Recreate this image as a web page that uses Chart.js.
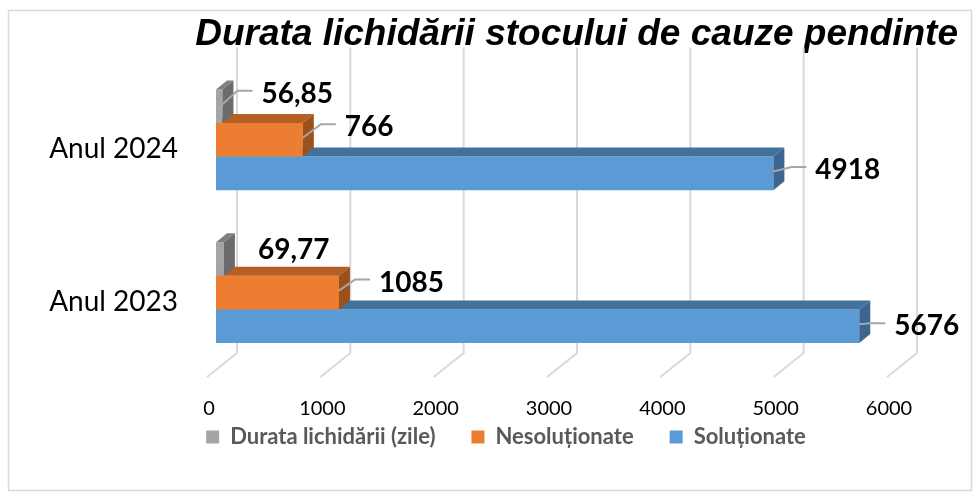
<!DOCTYPE html>
<html>
<head>
<meta charset="utf-8">
<script src="https://cdn.jsdelivr.net/npm/chart.js@4.4.1/dist/chart.umd.min.js"></script>
<style>
body{margin:0;background:#fff;}
#wrap{position:relative;width:979px;height:497px;}
</style>
</head>
<body>
<div id="wrap"><canvas id="durataChart"></canvas></div>
<script>
// data
const ani=["Anul 2024","Anul 2023"];
const durata=[56.85,69.77];
const nesolutionate=[766,1085];
const solutionate=[4918,5676];
const serii=["Durata lichidării (zile)","Nesoluționate","Soluționate"];

// colors: front, top, side
const culori=[
    {front:"#a5a5a5",top:"#7f7f7f",side:"#6b6b6b"},
    {front:"#ed7d31",top:"#b45f24",side:"#9c501c"},
    {front:"#5b9bd5",top:"#44719b",side:"#3c6590"}
];
const adancime={dx:11,dy:9};

// label offsets from bar end: [dx to label left, dy of label centre, leader?]
const pozEtichete=[
    [[39,-12.5,true],[34,-9,false]],
    [[42,-12.5,true],[40,-10,true]],
    [[42,-3.5,true],[35,0,true]]
];

function fmt(v){
    return v.toString().replace(".",",");
}

const chenar={
    id:"chenar",
    afterLayout(chart){
        // legend sits closer to the axis than the layout allows
        if(chart.legend){
            chart.legend.top-=29;
            chart.legend.bottom-=29;
            chart.legend.left+=7;
            chart.legend.right+=7;
        }
    },
    beforeDraw(chart){
        const ctx=chart.ctx;
        ctx.save();
        ctx.strokeStyle="#d9d9d9";
        ctx.lineWidth=1.5;
        ctx.strokeRect(8.5,10.5,963,480);
        ctx.restore();
    }
};

const grila={
    id:"grila",
    beforeDatasetsDraw(chart){
        const ctx=chart.ctx;
        const xs=chart.scales.x;
        const a=chart.chartArea;
        ctx.save();
        ctx.strokeStyle="#d9d9d9";
        ctx.lineWidth=2;
        xs.ticks.forEach(t=>{
            const px=xs.getPixelForValue(t.value);
            ctx.beginPath();
            ctx.moveTo(px+21,a.top-16);
            ctx.lineTo(px+21,a.bottom-16);
            ctx.lineTo(px-9,a.bottom+8);
            ctx.stroke();
        });
        ctx.restore();
    }
};

const bara3d={
    id:"bara3d",
    afterDatasetDraw(chart,args){
        const ctx=chart.ctx;
        const i=args.index;
        const dx=adancime.dx,dy=adancime.dy;
        ctx.save();
        args.meta.data.forEach(bar=>{
            const p=bar.getProps(["x","y","base","height"],true);
            const t=p.y-p.height/2,b=p.y+p.height/2;
            ctx.fillStyle=culori[i].top;
            ctx.beginPath();
            ctx.moveTo(p.base,t);
            ctx.lineTo(p.x,t);
            ctx.lineTo(p.x+dx,t-dy);
            ctx.lineTo(p.base+dx,t-dy);
            ctx.closePath();
            ctx.fill();
            ctx.fillStyle=culori[i].side;
            ctx.beginPath();
            ctx.moveTo(p.x,t);
            ctx.lineTo(p.x+dx,t-dy);
            ctx.lineTo(p.x+dx,b-dy);
            ctx.lineTo(p.x,b);
            ctx.closePath();
            ctx.fill();
        });
        ctx.restore();
    }
};

const etichete={
    id:"etichete",
    afterDatasetsDraw(chart){
        const ctx=chart.ctx;
        ctx.save();
        ctx.font="bold 28px Lato";
        ctx.textBaseline="middle";
        ctx.textAlign="left";
        chart.data.datasets.forEach((ds,i)=>{
            chart.getDatasetMeta(i).data.forEach((bar,j)=>{
                const poz=pozEtichete[i][j];
                const lx=bar.x+poz[0];
                const ly=bar.y+poz[1];
                if(poz[2]){
                    ctx.strokeStyle="#a6a6a6";
                    ctx.lineWidth=2;
                    ctx.beginPath();
                    ctx.moveTo(bar.x,bar.y-2);
                    ctx.lineTo(lx-24,ly-3);
                    ctx.lineTo(lx-9,ly-3);
                    ctx.stroke();
                }
                ctx.fillStyle="#000";
                ctx.fillText(fmt(ds.data[j]),lx,ly);
            });
        });
        ctx.restore();
    }
};

let ctxDurata=document.getElementById("durataChart").getContext("2d");
let durataChart=new Chart(ctxDurata,{
    type:"bar",
    data:{
        labels:ani,
        datasets:[
            {
                label:serii[0],
                data:durata,
                backgroundColor:culori[0].front
            },
            {
                label:serii[1],
                data:nesolutionate,
                backgroundColor:culori[1].front
            },
            {
                label:serii[2],
                data:solutionate,
                backgroundColor:culori[2].front
            }
        ]
    },
    options:{
        indexAxis:"y",
        responsive:true,
        maintainAspectRatio:false,
        animation:false,
        barPercentage:1,
        categoryPercentage:0.66,
        layout:{
            padding:{left:40,right:21,top:0,bottom:10}
        },
        scales:{
            x:{
                min:0,
                max:6000,
                grid:{display:false,drawTicks:false},
                border:{display:false},
                ticks:{
                    stepSize:1000,
                    padding:28,
                    labelOffset:-7,
                    color:"#000",
                    font:{family:"Lato",size:20},
                    callback:v=>String(v)
                },
                afterFit(s){ s.height=50; }
            },
            y:{
                grid:{display:false,drawTicks:false},
                border:{display:false},
                ticks:{
                    padding:38,
                    labelOffset:9,
                    color:"#000",
                    font:{family:"Lato",size:28}
                },
                afterFit(s){ s.width=176; }
            },
            yr:{
                type:"linear",
                position:"right",
                grid:{display:false,drawTicks:false},
                border:{display:false},
                ticks:{display:false},
                afterFit(s){ s.width=62; }
            }
        },
        plugins:{
            title:{
                display:true,
                text:"Durata lichidării stocului de cauze pendinte",
                align:"end",
                color:"#000",
                font:{family:"'Liberation Sans', Arial",size:37,weight:"bold",style:"italic"},
                padding:{top:13,bottom:6}
            },
            legend:{
                position:"bottom",
                labels:{
                    boxWidth:13,
                    boxHeight:13,
                    padding:36,
                    color:"#595959",
                    font:{family:"Lato",size:22,weight:"bold"}
                }
            },
            tooltip:{enabled:false}
        }
    },
    plugins:[chenar,grila,bara3d,etichete]
});
</script>
</body>
</html>
